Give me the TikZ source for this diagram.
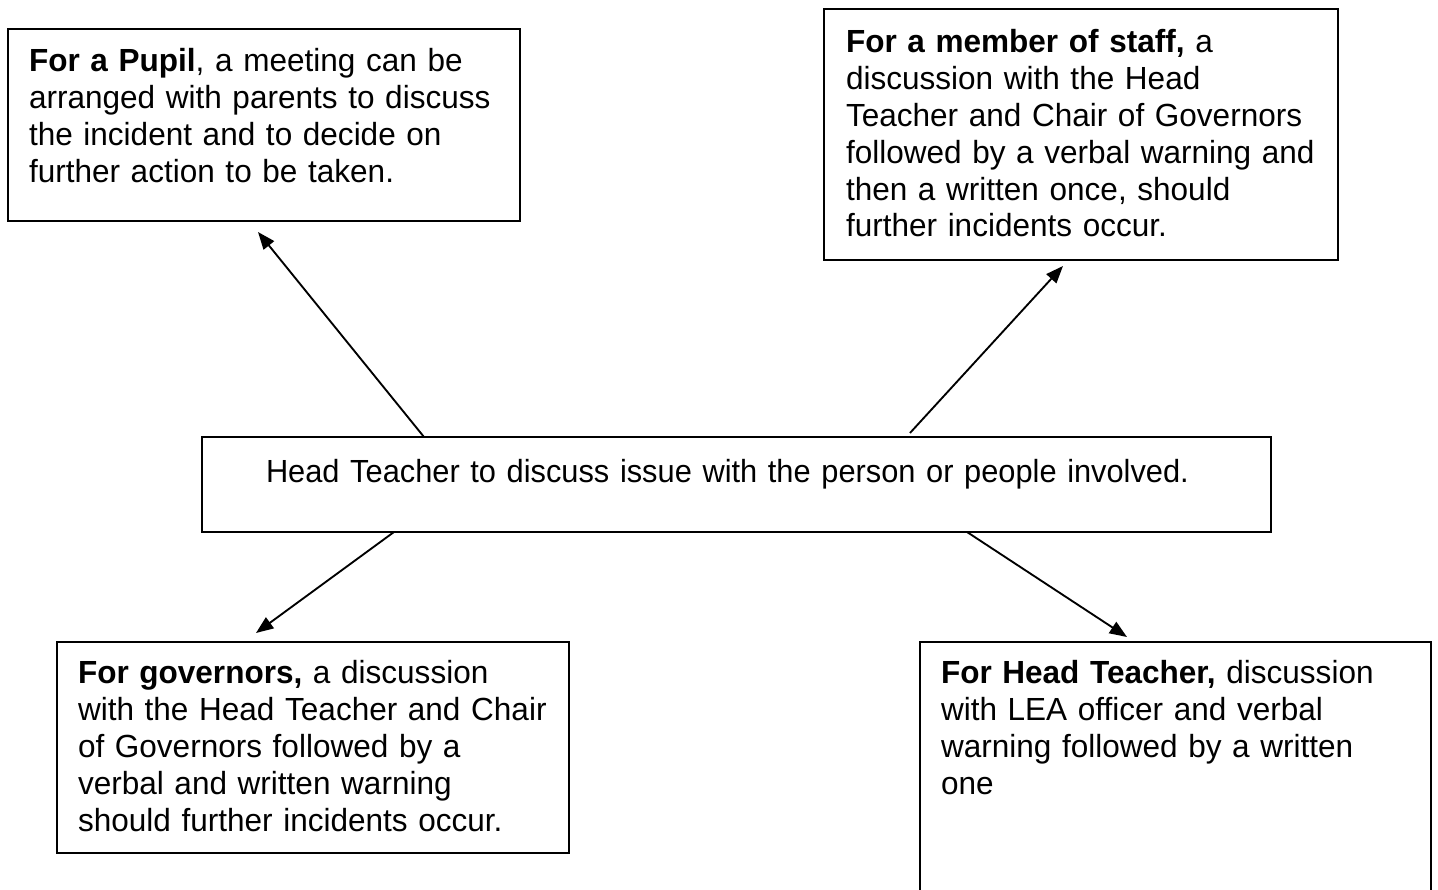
\documentclass[tikz,border=0pt]{standalone}
\usepackage{fontspec}
\setmainfont{Liberation Sans}[FakeStretch=0.985]
\newfontfamily\hubfont{Liberation Sans}[FakeStretch=0.962]
\usetikzlibrary{arrows.meta,fit,calc}
\tikzset{
  box/.style={draw=black, line width=0.75pt, inner sep=0pt, outer sep=0pt, rectangle},
  txt/.style={inner sep=0pt, outer sep=0pt, align=left, text width=#1, font=\fontsize{12pt}{13.8pt}\selectfont},
  arr/.style={line width=0.7pt, -{Triangle[length=6.5pt,width=5pt]}}
}
\begin{document}
\begin{tikzpicture}[x=0.375pt,y=-0.375pt]
\useasboundingbox (0,0) rectangle (1438,890);
% boxes
\node[box, fit={(8,29) (520,221)}] (pupil) {};
\node[box, fit={(824,9) (1338,260)}] (staff) {};
\node[box, fit={(202,437) (1271,532)}] (hub) {};
\node[box, fit={(57,642) (569,853)}] (gov) {};
\node[box, fit={(920,642) (1431,900)}] (head) {};
% texts
\node[txt=200pt, anchor=base west] (pupiltxt) at (29,72)
 {\textbf{For a Pupil}, a meeting can be\\arranged with parents to discuss\\the incident and to decide on\\further action to be taken.};
\node[txt=200pt, anchor=base west] (stafftxt) at (846,53)
 {\textbf{For a member of staff,} a\\discussion with the Head\\Teacher and Chair of Governors\\followed by a verbal warning and\\then a written once, should\\further incidents occur.};
\node[txt=400pt, anchor=base west, font=\hubfont\fontsize{12pt}{13.8pt}\selectfont] (hubtxt) at (266,483)
 {Head Teacher to discuss issue with the person or people involved.};
\node[txt=200pt, anchor=base west] (govtxt) at (78,684)
 {\textbf{For governors,} a discussion\\with the Head Teacher and Chair\\of Governors followed by a\\verbal and written warning\\should further incidents occur.};
\node[txt=200pt, anchor=base west] (headtxt) at (941,684)
 {\textbf{For Head Teacher,} discussion\\with LEA officer and verbal\\warning followed by a written\\one};
% arrows
\draw[arr] ($(hub.north west)+(222,0)$) -- ($(pupil.south west)+(250,11)$);
\draw[arr] ($(hub.north west)+(708,-4)$) -- ($(staff.south west)+(239,6)$);
\draw[arr] ($(hub.south west)+(192,0)$) -- ($(gov.north west)+(199,-9)$);
\draw[arr] ($(hub.south west)+(765,0)$) -- ($(head.north west)+(207,-5)$);
\end{tikzpicture}
\end{document}
